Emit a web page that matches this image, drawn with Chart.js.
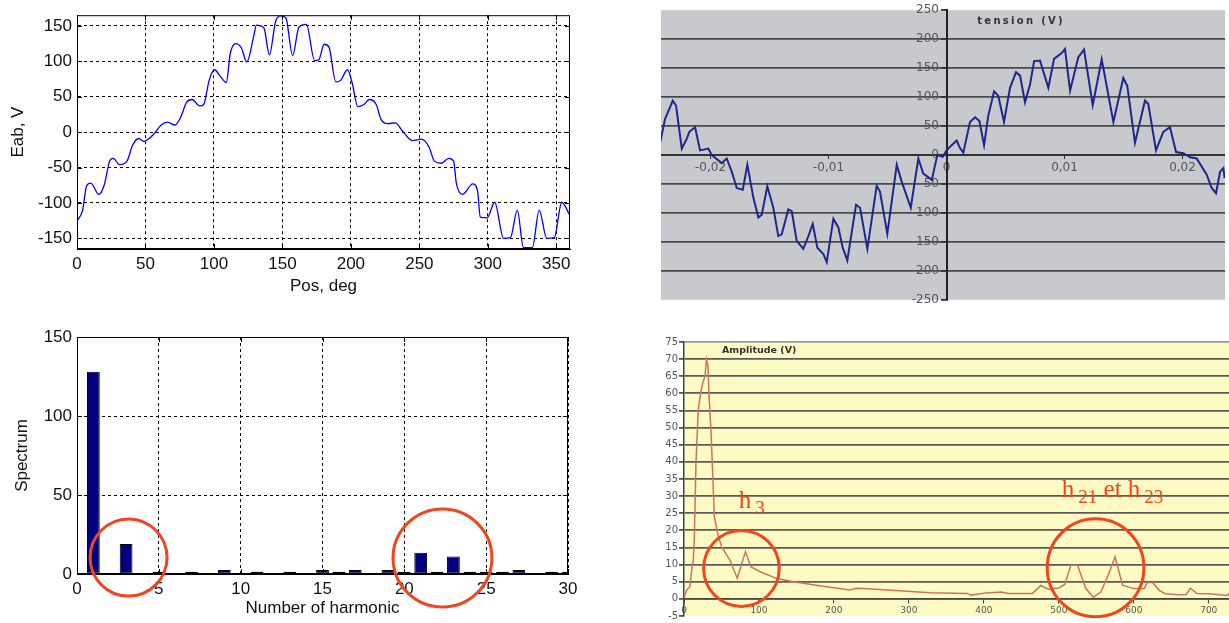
<!DOCTYPE html>
<html>
<head>
<meta charset="utf-8">
<script src="https://cdn.jsdelivr.net/npm/chart.js@4.4.1/dist/chart.umd.min.js"></script>
<style>
  body { margin: 0; background: #fff; }
  canvas { position: absolute; }
  #eab { left: 0; top: 0; }
  #spec { left: 0; top: 320px; }
  #tension { left: 661px; top: 0; }
  #ampl { left: 655px; top: 320px; }
</style>
</head>
<body>
<canvas id="eab" width="590" height="310"></canvas>
<canvas id="spec" width="590" height="303"></canvas>
<canvas id="tension" width="564" height="310"></canvas>
<canvas id="ampl" width="574" height="303"></canvas>
<script>
  // top left : back-emf over one turn (MATLAB)
  const posDeg = [0, 4, 7, 10, 16, 20, 24, 26.5, 31, 36.5, 40.5, 45, 49, 52, 56, 61.5, 66, 71.5, 75.5, 80,
    84, 89.5, 92.5, 96.5, 100.3, 105, 109, 112, 116, 120, 124, 129, 131, 136.5, 140.5, 145, 148.5, 152.5, 157.5, 162,
    167.5, 173.5, 176.5, 180.5, 184, 189, 192.5, 197.5, 201, 205, 209.5, 213.5, 218.5, 222, 227, 232.5, 237.5, 245, 251.5, 257,
    261, 266, 271.5, 275, 277, 281.5, 289, 292.5, 294.5, 299.5, 305, 311.5, 316.5, 321.5, 326, 332.5, 337.5, 343, 348.5, 354, 359.5];
  const eabV = [-125, -111, -76, -72, -88, -74, -40, -37, -46, -41, -19, -9, -13, -10, -3, 10, 14, 10, 20, 42,
    46, 37, 39, 73, 88, 78, 70, 112, 125, 119, 99, 135, 151, 147, 109, 156, 164, 161, 108, 148,
    152, 101, 102, 124, 120, 71, 73, 88, 69, 36, 39, 46, 39, 18, 12, 13, 2, -12, -10, -21,
    -41, -44, -37, -41, -72, -88, -73, -83, -120, -121, -99, -150, -149, -110, -163, -163, -110, -150, -149, -99, -116];
  const posTicks = [0, 50, 100, 150, 200, 250, 300, 350];
  const eabTicks = [-150, -100, -50, 0, 50, 100, 150];

  // bottom left : harmonic spectrum
  const harmonic = [1, 2, 3, 4, 5, 6, 7, 8, 9, 10, 11, 12, 13, 14, 15, 16, 17, 18, 19, 20, 21, 22, 23, 24, 25, 26, 27, 28, 29, 30];
  const spectrum = [128, 0, 19, 0, 1.5, 0, 1.5, 0, 2.5, 0, 1.5, 0, 1.5, 0, 2.5, 1.5, 2.5, 0, 2.5, 1.5,
    13.5, 1.5, 11, 1.5, 1.5, 1.5, 2.5, 0, 1.5, 1.5];
  const harmTicks = [0, 5, 10, 15, 20, 25, 30];
  const specTicks = [0, 50, 100, 150];

  // top right : measured voltage (Excel)
  const timeS = [-0.02428, -0.02386, -0.0232, -0.02292, -0.02244, -0.02202, -0.0218, -0.02131, -0.02089, -0.02019,
    -0.0199, -0.01905, -0.01863, -0.0182, -0.01778, -0.01727, -0.01688, -0.01637, -0.01595, -0.01566,
    -0.01519, -0.01468, -0.01426, -0.01397, -0.01341, -0.01312, -0.0127, -0.01214, -0.01171, -0.01134,
    -0.01095, -0.01044, -0.01015, -0.00959, -0.00917, -0.0088, -0.00841, -0.00767, -0.00733, -0.00671,
    -0.00592, -0.00564, -0.00502, -0.00422, -0.0038, -0.00303, -0.00239, -0.00197, -0.00125, -0.00078,
    -0.00032, 0, 0.00044, 0.00086, 0.00114, 0.00142, 0.00199, 0.00242, 0.00278, 0.00318,
    0.00354, 0.00403, 0.00439, 0.00487, 0.00538, 0.00589, 0.00623, 0.00665, 0.00708, 0.00742,
    0.00792, 0.00863, 0.00911, 0.00976, 0.01004, 0.01047, 0.01117, 0.01165, 0.01239, 0.01315,
    0.01414, 0.01498, 0.01532, 0.01597, 0.01682, 0.0171, 0.01775, 0.01837, 0.01894, 0.01945,
    0.02007, 0.02064, 0.0212, 0.02205, 0.02247, 0.02284, 0.02318, 0.02346, 0.02357];
  const tensionV = [20, 62, 94, 85, 11, 28, 40, 48, 8, 11,
    0, -14, -6, -29, -57, -60, -17, -74, -108, -103,
    -54, -91, -140, -137, -94, -97, -148, -162, -140, -119,
    -160, -171, -185, -110, -125, -160, -182, -86, -91, -162,
    -53, -63, -136, -17, -46, -91, -6, -32, -43, 0,
    -3, 8, 17, 25, 12, 4, 57, 65, 59, 17,
    68, 110, 102, 57, 116, 143, 137, 91, 122, 162,
    163, 116, 166, 176, 183, 111, 169, 182, 86, 165,
    57, 133, 119, 21, 94, 88, 8, 40, 48, 5,
    3, -4, -6, -34, -57, -66, -29, -23, -40];
  const timeTicks = [-0.02, -0.01, 0, 0.01, 0.02];
  const timeLabels = ['-0,02', '-0,01', '0', '0,01', '0,02'];
  const tensionTicks = [-250, -200, -150, -100, -50, 0, 50, 100, 150, 200, 250];

  // bottom right : measured amplitude spectrum (Excel)
  const freqHz = [0, 3.5, 8, 10, 12.4, 13.7, 16, 19, 22, 25, 28, 30, 32, 33.5, 36, 40.5, 45.4, 50.3, 61, 71,
    82, 89, 101, 123, 146, 181, 221, 230, 240, 287, 329, 378, 383, 403, 423, 433,
    465, 476, 486, 500, 508, 516, 525, 536, 546, 556, 566, 575, 585, 600, 614, 618, 625, 634, 642, 660,
    670, 675.5, 684, 700, 714, 724, 731];
  const amplV = [0.3, 2.5, 3.6, 8, 11.4, 17, 40, 55, 60, 63, 65, 70, 68, 59, 49, 24, 18.6, 15.2, 11.4, 6,
    13.8, 9.4, 8, 6, 5, 3.8, 2.6, 3.1, 3, 2.4, 1.8, 1.6, 1.1, 1.75, 2, 1.6,
    1.6, 3.9, 2.8, 3.2, 4.2, 9.8, 9.8, 3, 0.5, 2, 7, 12.3, 4, 3, 3, 4.8, 4.8, 2.5, 1.5, 1.2,
    1.3, 3.1, 1.6, 1.5, 1.2, 1, 2];
  const freqTicks = [0, 100, 200, 300, 400, 500, 600, 700];
  const amplTicks = [-5, 0, 5, 10, 15, 20, 25, 30, 35, 40, 45, 50, 55, 60, 65, 70, 75];

  // red hand drawn marks, in data units
  const specOvals = [{x: 3.15, y: 10.4, rx: 2.35, ry: 24.4}, {x: 22.33, y: 10.1, rx: 3.02, ry: 31}];
  const amplOvals = [{x: 76.6, y: 8.9, rx: 50.4, ry: 11.1}, {x: 549, y: 9.1, rx: 64.5, ry: 14.3}];
  const amplNotes = [
    {x: 73.2, y: 26.6, parts: [['h', 0], ['3', 1]]},
    {x: 504, y: 29.8, parts: [['h', 0], ['21', 1], [' et ', 0], ['h', 0], ['23', 1]]}
  ];

  const RED = '#f0451f';
  const mlFont = {family: 'Liberation Sans', size: 17};

  function fixedTicks(list) {
    return s => { s.ticks = list.map(v => ({value: v})); };
  }

  const matlabBox = {
    id: 'matlabBox',
    afterDatasetsDraw(chart) {
      const {ctx, chartArea: a, scales: {x, y}} = chart;
      ctx.save();
      ctx.strokeStyle = '#000';
      ctx.lineWidth = 1;
      ctx.strokeRect(a.left + 0.5, a.top + 0.5, a.right - a.left - 1, a.bottom - a.top - 1);
      ctx.beginPath();
      x.ticks.forEach(t => {
        const px = Math.round(x.getPixelForValue(t.value)) + 0.5;
        ctx.moveTo(px, a.bottom); ctx.lineTo(px, a.bottom - 5);
        ctx.moveTo(px, a.top); ctx.lineTo(px, a.top + 5);
      });
      y.ticks.forEach(t => {
        const py = Math.round(y.getPixelForValue(t.value)) + 0.5;
        ctx.moveTo(a.left, py); ctx.lineTo(a.left + 5, py);
        ctx.moveTo(a.right, py); ctx.lineTo(a.right - 5, py);
      });
      ctx.stroke();
      ctx.restore();
    }
  };

  function areaFill(color) {
    return {
      id: 'areaFill',
      beforeDraw(chart) {
        const {ctx, chartArea: a} = chart;
        ctx.save();
        ctx.fillStyle = color;
        ctx.fillRect(a.left, a.top, a.right - a.left, a.bottom - a.top);
        ctx.restore();
      }
    };
  }

  function ovals(list) {
    return {
      id: 'ovals',
      afterDatasetsDraw(chart) {
        const {ctx, scales: {x, y}} = chart;
        ctx.save();
        ctx.strokeStyle = RED;
        ctx.lineWidth = 3;
        list.forEach(o => {
          const cx = x.getPixelForValue(o.x), cy = y.getPixelForValue(o.y);
          const rx = Math.abs(x.getPixelForValue(o.x + o.rx) - cx);
          const ry = Math.abs(y.getPixelForValue(o.y + o.ry) - cy);
          ctx.beginPath();
          ctx.ellipse(cx, cy, rx, ry, 0, 0, Math.PI * 2);
          ctx.stroke();
        });
        ctx.restore();
      }
    };
  }

  function caption(text, xv, yv, font, spacing) {
    return {
      id: 'caption',
      afterDatasetsDraw(chart) {
        const {ctx, scales: {x, y}} = chart;
        ctx.save();
        ctx.font = font;
        ctx.letterSpacing = spacing;
        ctx.fillStyle = '#333';
        ctx.textBaseline = 'middle';
        ctx.fillText(text, x.getPixelForValue(xv), y.getPixelForValue(yv));
        ctx.restore();
      }
    };
  }

  const notes = {
    id: 'notes',
    afterDatasetsDraw(chart) {
      const {ctx, scales: {x, y}} = chart;
      ctx.save();
      ctx.fillStyle = RED;
      ctx.textBaseline = 'alphabetic';
      amplNotes.forEach(n => {
        let px = x.getPixelForValue(n.x);
        const py = y.getPixelForValue(n.y);
        n.parts.forEach(([txt, sub]) => {
          ctx.font = sub ? '19px "Liberation Serif"' : '25px "Liberation Serif"';
          if (sub) px += 4;
          ctx.fillText(txt, px, py + (sub ? 6 : 0));
          px += ctx.measureText(txt).width;
        });
      });
      ctx.restore();
    }
  };

  const base = {
    responsive: false,
    animation: false,
    devicePixelRatio: 1,
    plugins: {legend: {display: false}, tooltip: {enabled: false}}
  };

  const mlGrid = {color: '#000', lineWidth: 1, drawTicks: false};
  const mlBorder = {display: true, color: '#000', width: 1, dash: [3, 3]};
  const mlTicks = {font: mlFont, color: '#111', maxRotation: 0, autoSkip: false};

  // top left
  new Chart(document.getElementById('eab'), {
    type: 'line',
    data: {
      datasets: [{
        data: posDeg.map((p, i) => ({x: p, y: eabV[i]})),
        borderColor: '#0000ff', borderWidth: 1.3, pointRadius: 0,
        cubicInterpolationMode: 'monotone'
      }]
    },
    options: Object.assign({}, base, {
      layout: {padding: {top: 12, right: 20, left: 0, bottom: 0}},
      scales: {
        x: {
          type: 'linear', min: 0, max: 360,
          afterBuildTicks: fixedTicks(posTicks), afterFit: s => { s.height = 61; },
          grid: mlGrid, border: mlBorder,
          ticks: Object.assign({padding: 5}, mlTicks),
          title: {display: true, text: 'Pos, deg', font: mlFont, color: '#111', padding: {bottom: 13}}
        },
        y: {
          min: -165, max: 165,
          afterBuildTicks: fixedTicks(eabTicks), afterFit: s => { s.width = 77; },
          grid: mlGrid, border: mlBorder,
          ticks: Object.assign({padding: 5}, mlTicks),
          title: {display: true, text: 'Eab, V', font: mlFont, color: '#111', padding: {top: 8}}
        }
      }
    }),
    plugins: [matlabBox]
  });

  // bottom left
  new Chart(document.getElementById('spec'), {
    type: 'bar',
    data: {
      datasets: [{
        data: harmonic.map((h, i) => ({x: h, y: spectrum[i]})),
        backgroundColor: '#000080', borderColor: '#000', borderWidth: 1, borderSkipped: false,
        barPercentage: 0.78, categoryPercentage: 1
      }]
    },
    options: Object.assign({}, base, {
      layout: {padding: {top: 17, right: 22, left: 0, bottom: 0}},
      scales: {
        x: {
          type: 'linear', min: 0, max: 30, offset: false,
          afterBuildTicks: fixedTicks(harmTicks), afterFit: s => { s.height = 49; },
          grid: Object.assign({offset: false}, mlGrid), border: mlBorder,
          ticks: Object.assign({padding: 5}, mlTicks),
          title: {display: true, text: 'Number of harmonic', font: mlFont, color: '#111', padding: {bottom: 4}}
        },
        y: {
          min: 0, max: 150,
          afterBuildTicks: fixedTicks(specTicks), afterFit: s => { s.width = 77; },
          grid: mlGrid, border: mlBorder,
          ticks: Object.assign({padding: 5}, mlTicks),
          title: {display: true, text: 'Spectrum', font: mlFont, color: '#111', padding: {top: 12}}
        }
      }
    }),
    plugins: [matlabBox, ovals(specOvals)]
  });

  const xlFont = {family: 'DejaVu Sans', size: 12};

  // top right
  new Chart(document.getElementById('tension'), {
    type: 'line',
    data: {
      datasets: [{
        data: timeS.map((t, i) => ({x: t, y: tensionV[i]})),
        borderColor: '#1e288c', borderWidth: 2, pointRadius: 0
      }]
    },
    options: Object.assign({}, base, {
      layout: {padding: {top: 10, right: 0, left: 0, bottom: 7}},
      scales: {
        x: {
          type: 'linear', min: -0.0242, max: 0.0236, position: {y: 0},
          afterBuildTicks: fixedTicks(timeTicks),
          grid: {drawOnChartArea: false, tickLength: 3, color: '#333'},
          border: {display: true, color: '#333', width: 2},
          ticks: {font: xlFont, color: '#555', padding: 3, maxRotation: 0, autoSkip: false,
            callback: v => timeLabels[timeTicks.indexOf(v)]}
        },
        y: {
          min: -250, max: 250, position: {x: 0},
          afterBuildTicks: fixedTicks(tensionTicks),
          grid: {color: c => (Math.abs(c.tick.value) === 250 ? 'rgba(0,0,0,0)' : '#4a4a4a'),
            lineWidth: 1.8, tickLength: 5, tickColor: '#333'},
          border: {display: true, color: '#222', width: 2},
          ticks: {font: xlFont, color: '#555', autoSkip: false, callback: v => v + '  '}
        }
      }
    }),
    plugins: [areaFill('#c8c9cd'), caption('tension (V)', 0.0026, 231, 'bold 10px "DejaVu Sans"', '2.3px')]
  });

  // bottom right
  new Chart(document.getElementById('ampl'), {
    type: 'line',
    data: {
      datasets: [{
        data: freqHz.map((f, i) => ({x: f, y: amplV[i]})),
        borderColor: '#c77563', borderWidth: 1.5, pointRadius: 0
      }]
    },
    options: Object.assign({}, base, {
      layout: {padding: {top: 22, right: 0, left: 0, bottom: 7}},
      scales: {
        x: {
          type: 'linear', min: 0, max: 727, position: {y: 0},
          afterBuildTicks: fixedTicks(freqTicks),
          grid: {drawOnChartArea: false, tickLength: 4, color: '#444'},
          border: {display: true, color: '#444', width: 1.5},
          ticks: {font: {family: 'DejaVu Sans', size: 9}, color: '#555', padding: 2, maxRotation: 0, autoSkip: false}
        },
        y: {
          min: -5, max: 75,
          afterBuildTicks: fixedTicks(amplTicks), afterFit: s => { s.width = 29; },
          grid: {color: c => (c.tick.value === -5 ? 'rgba(0,0,0,0)' : c.tick.value === 75 ? '#9a9a9a' : '#5a5a5a'),
            lineWidth: 1.8, tickLength: 5, tickColor: '#555'},
          border: {display: true, color: '#444', width: 1.5},
          ticks: {font: {family: 'DejaVu Sans', size: 10}, color: '#555', padding: 1, autoSkip: false}
        }
      }
    }),
    plugins: [areaFill('#fdfbc3'), caption('Amplitude (V)', 50.6, 72.5, 'bold 9.5px "DejaVu Sans"', '0px'), ovals(amplOvals), notes]
  });
</script>
</body>
</html>
